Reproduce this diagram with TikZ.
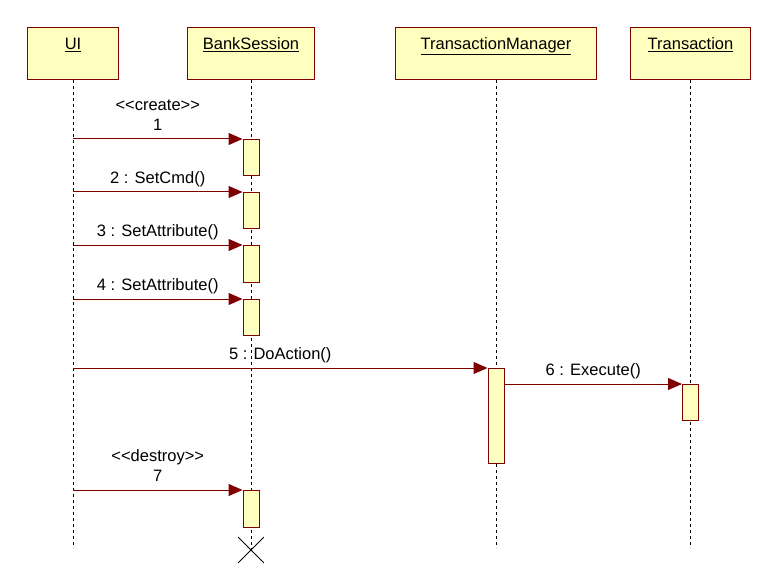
\documentclass[tikz,border=0pt]{standalone}
\usepackage{fontspec}
\setmainfont{Liberation Sans}
\usepackage{tikz}
\usetikzlibrary{arrows.meta, shapes.misc}
\definecolor{umlred}{HTML}{800000}
\definecolor{umlfill}{HTML}{FFFFC0}

\begin{document}
\begin{tikzpicture}[x=1pt, y=-1pt, font=\fontsize{16.5}{20}\selectfont,
  head/.style = {draw=umlred, fill=umlfill, line width=1pt, inner sep=0pt, text height=22pt, text depth=30pt, anchor=north west},
  act/.style = {draw=umlred, fill=umlfill, line width=1pt, inner sep=0pt, minimum width=16pt, anchor=north},
  life/.style = {dash pattern=on 3pt off 3pt, line width=0.8pt},
  msg/.style = {draw=umlred, line width=1pt, -{Triangle[length=14pt, width=12pt]}},
  lbl/.style = {above, inner sep=4pt, text depth=4pt, align=center}]
\useasboundingbox (0,0) rectangle (778,577);
\node[head, minimum width=91pt] (ui) at (27,27) {\underline{UI}};
\node[head, minimum width=127pt] (bank) at (187,27) {\underline{BankSession}};
\node[head, minimum width=201pt] (tm) at (395,27) {\underline{TransactionManager}};
\node[head, minimum width=120pt] (tr) at (630,27) {\underline{Transaction}};
\coordinate (uiend) at (ui.south |- 0,548);
\coordinate (tmend) at (tm.south |- 0,548);
\coordinate (trend) at (tr.south |- 0,548);
\node[cross out, draw, line width=0.8pt, minimum size=25pt, inner sep=0pt] (kill) at (bank.south |- 0,550) {};
\draw[life] (ui) -- (uiend);
\draw[life] (bank) -- (kill.center);
\draw[life] (tm) -- (tmend);
\draw[life] (tr) -- (trend);
\node[act, minimum height=36pt] (a1) at (bank.south |- 0,139) {};
\node[act, minimum height=36pt] (a2) at (bank.south |- 0,192) {};
\node[act, minimum height=37pt] (a3) at (bank.south |- 0,245) {};
\node[act, minimum height=36pt] (a4) at (bank.south |- 0,299) {};
\node[act, minimum height=95pt] (a5) at (tm.south |- 0,368) {};
\node[act, minimum height=36pt] (a6) at (tr.south |- 0,384) {};
\node[act, minimum height=37pt] (a7) at (bank.south |- 0,490) {};
\draw[msg] (ui.south |- a1.north) -- (a1.north west) node[lbl, midway]{<\kern0pt<create>\kern0pt>\\1};
\draw[msg] (ui.south |- a2.north) -- (a2.north west) node[lbl, midway]{2 : SetCmd()};
\draw[msg] (ui.south |- a3.north) -- (a3.north west) node[lbl, midway]{3 : SetAttribute()};
\draw[msg] (ui.south |- a4.north) -- (a4.north west) node[lbl, midway]{4 : SetAttribute()};
\draw[msg] (ui.south |- a5.north) -- (a5.north west) node[lbl, midway]{5 : DoAction()};
\draw[msg] (a5.east |- a6.north) -- (a6.north west) node[lbl, midway]{6 : Execute()};
\draw[msg] (ui.south |- a7.north) -- (a7.north west) node[lbl, midway]{<\kern0pt<destroy>\kern0pt>\\7};
\end{tikzpicture}
\end{document}
